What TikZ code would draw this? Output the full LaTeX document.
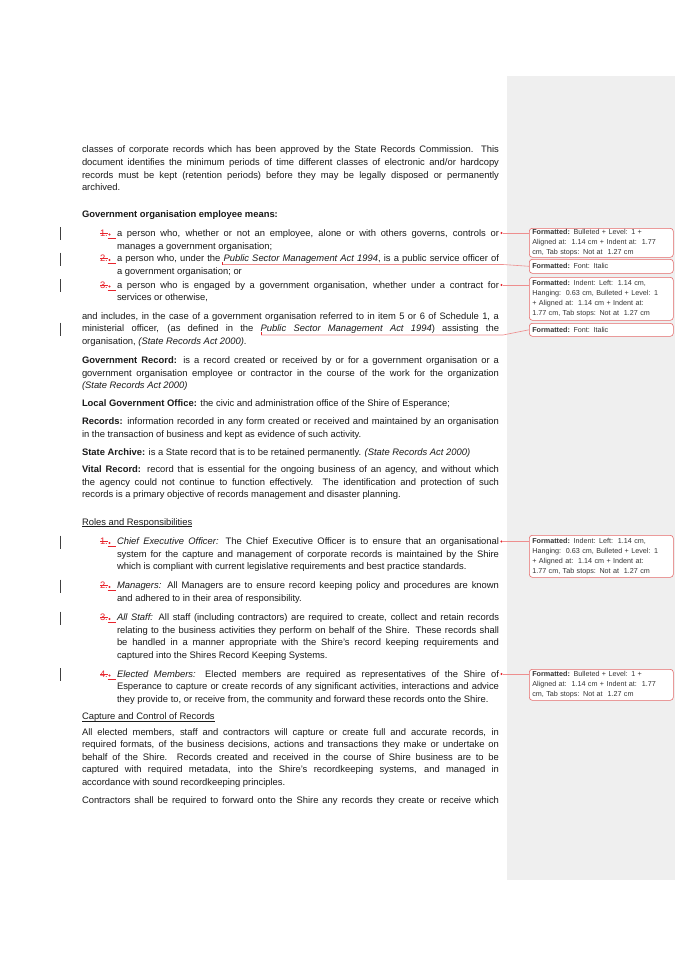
\documentclass[tikz,border=0pt]{standalone}
\usepackage{fontspec}
\setmainfont{Liberation Sans}
\newfontfamily\cmtfont{Liberation Sans}
\definecolor{mkgray}{HTML}{EFEFEF}
\definecolor{trk}{HTML}{E8242C}
\definecolor{boxred}{HTML}{E46A6A}
\definecolor{lnred}{HTML}{EE8E8E}
\definecolor{bodyc}{HTML}{1A1A1A}
\tikzset{
 txt/.style={anchor=base west, inner sep=0pt, outer sep=0pt, font=\fontsize{9.4}{12.4}\selectfont, text=bodyc},
 rtxt/.style={txt, text=trk},
 cbox/.style={draw=boxred, fill=white, rounded corners=3pt, line width=0.6pt, anchor=north west, minimum width=144pt, text width=138pt, inner xsep=3pt, inner ysep=0pt, align=left, font=\cmtfont\fontsize{7.2}{10}\selectfont, text=black!80},
 rdot/.style={circle, fill=trk, inner sep=0pt, minimum size=2.4pt},
 rmark/.style={draw=trk, line width=0.5pt},
 conn/.style={draw=lnred, line width=0.6pt},
 cbar/.style={draw=black!75, line width=0.6pt},
 uline/.style={draw=bodyc, line width=0.5pt},
}
\newcommand\JL[4]{\node[txt] (#1) at (#2,#3) {\makebox[\dimexpr499pt-#2pt\relax][s]{#4}};}
\newcommand\LL[4]{\node[txt] (#1) at (#2,#3) {#4};}
\newcommand\RN[3]{%
 \node[rtxt] (#1) at (100,#3) {#2.};
 \draw[rmark] ([yshift=3pt]#1.base west) -- ([yshift=3pt]#1.base east);
 \node[rdot] (#1d) at (109.5,{#3-1.5}) {};
 \draw[rmark] (107.5,{#3+2}) -- (115.5,{#3+2});
}
\newcommand\CB[2]{\draw[cbar] (#1,{#2-9}) -- (#1,{#2+4});}
\begin{document}
\begin{tikzpicture}[x=1pt,y=-1pt]
\useasboundingbox (0,0) rectangle (675,955);
\fill[white] (0,0) rectangle (675,955);
\fill[mkgray] (507,76) rectangle (675,880);

% paragraph 1
\JL{p1a}{82}{153}{classes of corporate records which has been approved by the State Records Commission. This}
\JL{p1b}{82}{165.5}{document identifies the minimum periods of time different classes of electronic and/or hardcopy}
\JL{p1c}{82}{178}{records must be kept (retention periods) before they may be legally disposed or permanently}
\LL{p1d}{82}{190.5}{archived.}

\LL{h1}{82}{217}{\textbf{Government organisation employee means:}}

% items
\RN{n1}{1}{236}
\JL{i1a}{117}{236}{a person who, whether or not an employee, alone or with others governs, controls or}
\LL{i1b}{117}{249}{manages a government organisation;}
\RN{n2}{2}{261.5}
\JL{i2a}{117}{261.5}{a person who, under the \textit{Public Sector Management Act 1994}, is a public service officer of}
\LL{i2b}{117}{274.5}{a government organisation; or}
\RN{n3}{3}{288}
\JL{i3a}{117}{288}{a person who is engaged by a government organisation, whether under a contract for}
\LL{i3b}{117}{300.5}{services or otherwise,}

\JL{a1}{82}{319}{and includes, in the case of a government organisation referred to in item 5 or 6 of Schedule 1, a}
\JL{a2}{82}{331.5}{ministerial officer, (as defined in the \textit{Public Sector Management Act 1994}) assisting the}
\LL{a3}{82}{344}{organisation, \textit{(State Records Act 2000)}.}

\JL{g1}{82}{363.5}{\textbf{Government Record:} is a record created or received by or for a government organisation or a}
\JL{g2}{82}{376}{government organisation employee or contractor in the course of the work for the organization}
\LL{g3}{82}{388.5}{\textit{(State Records Act 2000)}}

\LL{lg}{82}{406}{\textbf{Local Government Office:} the civic and administration office of the Shire of Esperance;}

\JL{r1}{82}{424.5}{\textbf{Records:} information recorded in any form created or received and maintained by an organisation}
\LL{r2}{82}{437}{in the transaction of business and kept as evidence of such activity.}

\LL{sa}{82}{455}{\textbf{State Archive:} is a State record that is to be retained permanently. \textit{(State Records Act 2000)}}

\JL{v1}{82}{472.5}{\textbf{Vital Record:} record that is essential for the ongoing business of an agency, and without which}
\JL{v2}{82}{485}{the agency could not continue to function effectively. The identification and protection of such}
\LL{v3}{82}{497.5}{records is a primary objective of records management and disaster planning.}

\LL{h2}{82}{525}{Roles and Responsibilities}
\draw[uline] ([yshift=-1.3pt]h2.base west) -- ([yshift=-1.3pt]h2.base east);

\RN{m1}{1}{544.5}
\JL{c1}{117}{544.5}{\textit{Chief Executive Officer:} The Chief Executive Officer is to ensure that an organisational}
\JL{c2}{117}{557}{system for the capture and management of corporate records is maintained by the Shire}
\LL{c3}{117}{569.5}{which is compliant with current legislative requirements and best practice standards.}
\RN{m2}{2}{588.5}
\JL{mg1}{117}{588.5}{\textit{Managers:} All Managers are to ensure record keeping policy and procedures are known}
\LL{mg2}{117}{601}{and adhered to in their area of responsibility.}
\RN{m3}{3}{620.5}
\JL{s1}{117}{620.5}{\textit{All Staff:} All staff (including contractors) are required to create, collect and retain records}
\JL{s2}{117}{633}{relating to the business activities they perform on behalf of the Shire. These records shall}
\JL{s3}{117}{645.5}{be handled in a manner appropriate with the Shire's record keeping requirements and}
\LL{s4}{117}{658}{captured into the Shires Record Keeping Systems.}
\RN{m4}{4}{677}
\JL{e1}{117}{677}{\textit{Elected Members:} Elected members are required as representatives of the Shire of}
\JL{e2}{117}{689.5}{Esperance to capture or create records of any significant activities, interactions and advice}
\LL{e3}{117}{702}{they provide to, or receive from, the community and forward these records onto the Shire.}

\LL{h3}{82}{719.5}{Capture and Control of Records}
\draw[uline] ([yshift=-1.3pt]h3.base west) -- ([yshift=-1.3pt]h3.base east);

\JL{ae1}{82}{735}{All elected members, staff and contractors will capture or create full and accurate records, in}
\JL{ae2}{82}{747.5}{required formats, of the business decisions, actions and transactions they make or undertake on}
\JL{ae3}{82}{760}{behalf of the Shire.\ \ Records created and received in the course of Shire business are to be}
\JL{ae4}{82}{772.5}{captured with required metadata, into the Shire's recordkeeping systems, and managed in}
\LL{ae5}{82}{785}{accordance with sound recordkeeping principles.}
\JL{ct}{82}{803.5}{Contractors shall be required to forward onto the Shire any records they create or receive which}

% change bars
\CB{60}{236}\CB{60}{261.5}\CB{60}{288}\CB{60}{331.5}
\CB{60}{544.5}\CB{60}{588.5}\CB{60}{620.5}\CB{60}{677}

% comment boxes
\node[cbox, minimum height=29pt] (b1) at (529,228) {\textbf{Formatted:} Bulleted + Level: 1 +\\Aligned at:\ \ 1.14 cm + Indent at:\ \ 1.77\\cm, Tab stops: Not at\ \ 1.27 cm};
\node[cbox, minimum height=14pt] (b2) at (529,259) {\textbf{Formatted:} Font: Italic};
\node[cbox, minimum height=43pt] (b3) at (529,277) {\textbf{Formatted:} Indent: Left:\ \ 1.14 cm,\\Hanging:\ \ 0.63 cm, Bulleted + Level: 1\\+ Aligned at:\ \ 1.14 cm + Indent at:\\1.77 cm, Tab stops: Not at\ \ 1.27 cm};
\node[cbox, minimum height=13pt] (b4) at (529,323) {\textbf{Formatted:} Font: Italic};
\node[cbox, minimum height=42pt] (b5) at (529,535) {\textbf{Formatted:} Indent: Left:\ \ 1.14 cm,\\Hanging:\ \ 0.63 cm, Bulleted + Level: 1\\+ Aligned at:\ \ 1.14 cm + Indent at:\\1.77 cm, Tab stops: Not at\ \ 1.27 cm};
\node[cbox, minimum height=31pt] (b6) at (529,669) {\textbf{Formatted:} Bulleted + Level: 1 +\\Aligned at:\ \ 1.14 cm + Indent at:\ \ 1.77\\cm, Tab stops: Not at\ \ 1.27 cm};

% end-of-line markers and connectors
\node[rdot] (d1) at (501.5,233) {};
\node[rdot] (d3) at (501.5,285) {};
\node[rdot] (d5) at (501.5,541.5) {};
\node[rdot] (d6) at (501.5,674) {};
\draw[conn] (d1) -- (d1 -| b1.west);
\draw[conn] (d3) -- (d3 -| b3.west);
\draw[conn] (d5) -- (d5 -| b5.west);
\draw[conn] (d6) -- (d6 -| b6.west);
\coordinate (u2) at (222,264.5);
\coordinate (k2) at (503,264.5);
\draw[conn] (u2) -- (k2) -- (b2.west);
\draw[rmark] (u2) -- ++(0,-3);
\coordinate (u4) at (261,335);
\coordinate (k4) at (503,335);
\draw[conn] (u4) -- (k4) -- (b4.west);
\draw[rmark] (u4) -- ++(0,-3);
\end{tikzpicture}
\end{document}
